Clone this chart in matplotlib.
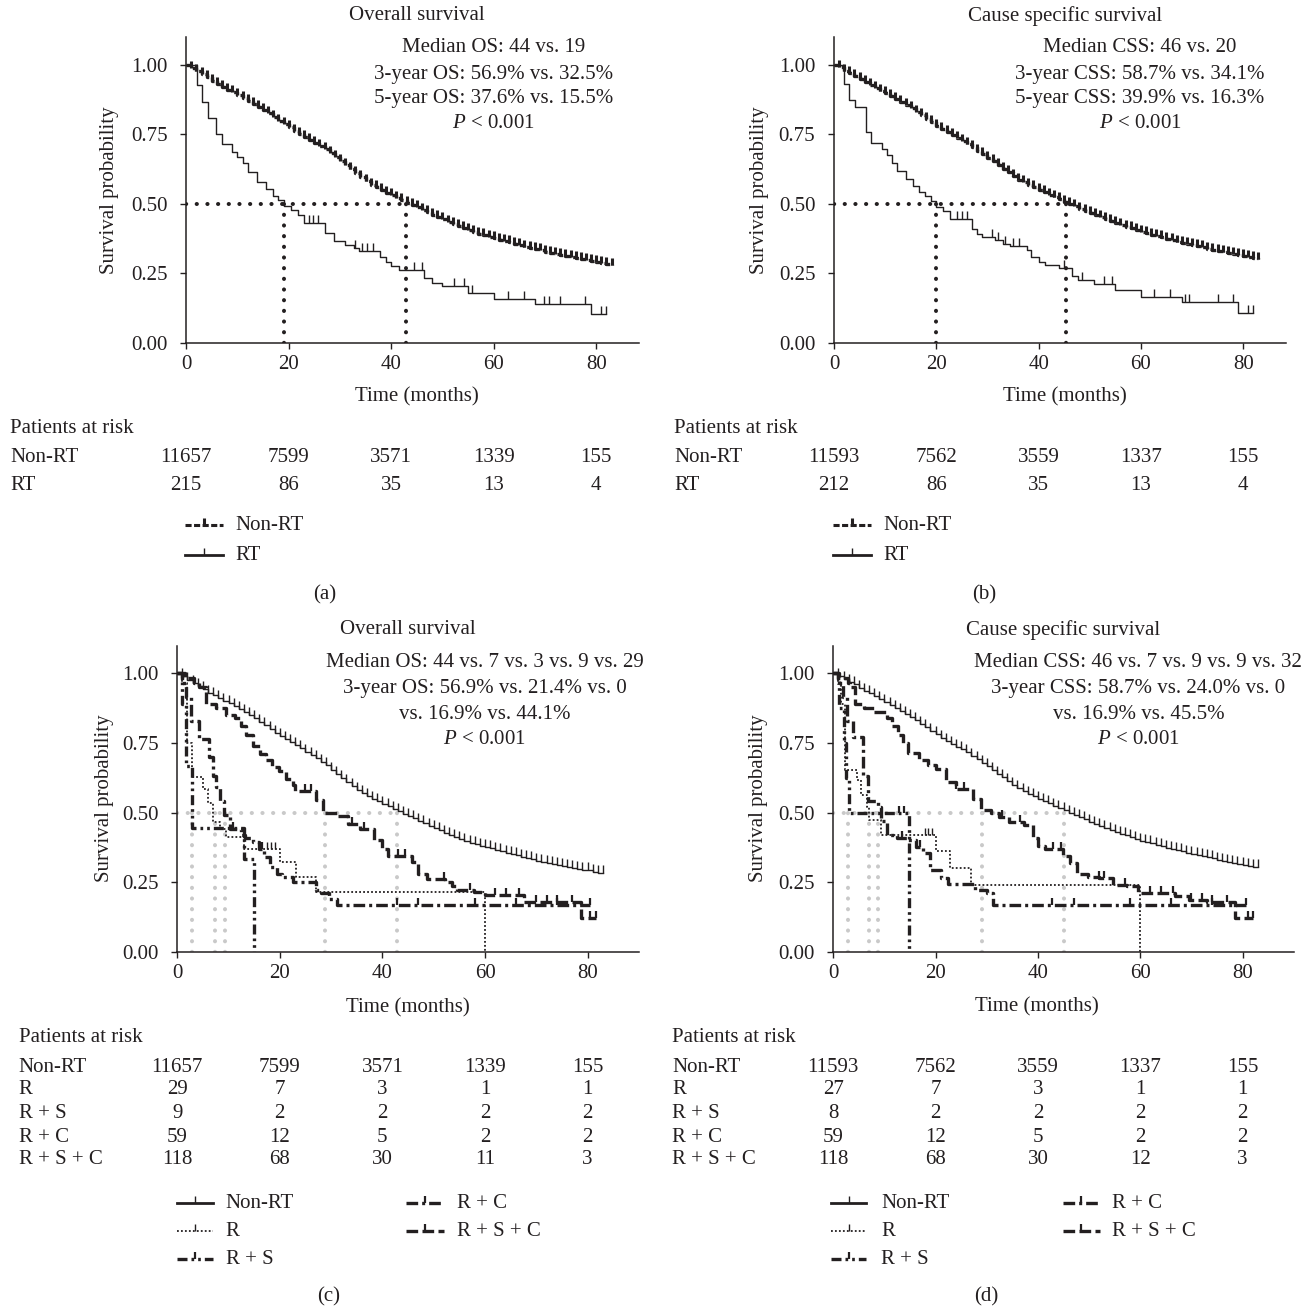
import numpy as np
import matplotlib
matplotlib.use("Agg")
import matplotlib.pyplot as plt
from matplotlib.lines import Line2D
from matplotlib.transforms import blended_transform_factory

W, H = 1304, 1309
INK = "#231f20"
FS = 15

plt.rcParams["font.family"] = ["Liberation Serif", "DejaVu Serif"]
plt.rcParams["mathtext.fontset"] = "custom"
plt.rcParams["mathtext.rm"] = "Liberation Serif"
plt.rcParams["mathtext.it"] = "Liberation Serif:italic"
plt.rcParams["text.color"] = INK

# =========================
# DATA
# =========================
months = list(range(84))

nonrt_os = [1.000, 0.990, 0.977, 0.966, 0.955, 0.943, 0.931, 0.921, 0.911, 0.902,
            0.893, 0.882, 0.871, 0.860, 0.849, 0.838, 0.826, 0.813, 0.800, 0.787,
            0.775, 0.763, 0.752, 0.741, 0.730, 0.719, 0.708, 0.696, 0.683, 0.669,
            0.654, 0.640, 0.625, 0.610, 0.596, 0.582, 0.569, 0.559, 0.549, 0.540,
            0.531, 0.522, 0.513, 0.504, 0.496, 0.488, 0.479, 0.470, 0.461, 0.452,
            0.444, 0.436, 0.428, 0.420, 0.412, 0.405, 0.398, 0.392, 0.386, 0.381,
            0.376, 0.371, 0.366, 0.361, 0.356, 0.351, 0.346, 0.341, 0.336, 0.332,
            0.327, 0.323, 0.319, 0.315, 0.311, 0.307, 0.304, 0.301, 0.298, 0.295,
            0.292, 0.288, 0.284, 0.281]

nonrt_css = [1.000, 0.991, 0.980, 0.970, 0.960, 0.949, 0.938, 0.928, 0.918, 0.908,
             0.898, 0.888, 0.877, 0.866, 0.855, 0.844, 0.832, 0.819, 0.806, 0.793,
             0.781, 0.769, 0.758, 0.747, 0.737, 0.727, 0.716, 0.704, 0.692, 0.679,
             0.666, 0.653, 0.640, 0.627, 0.613, 0.600, 0.587, 0.577, 0.568, 0.559,
             0.550, 0.541, 0.533, 0.525, 0.516, 0.508, 0.499, 0.491, 0.483, 0.475,
             0.467, 0.459, 0.451, 0.444, 0.437, 0.430, 0.424, 0.418, 0.412, 0.405,
             0.399, 0.394, 0.389, 0.384, 0.379, 0.374, 0.369, 0.364, 0.360, 0.355,
             0.351, 0.347, 0.343, 0.339, 0.335, 0.331, 0.327, 0.323, 0.320, 0.316,
             0.313, 0.309, 0.306, 0.303]

rt_os_t = [0, 2.1, 3.0, 4.3, 5.9, 7.0, 8.9, 10.0, 11.0, 12.0, 13.8, 15.5, 17.0, 18.0,
           19.0, 20.5, 21.8, 23.0, 27.0, 28.8, 31.0, 32.7, 33.8, 37.8, 39.0, 40.0,
           41.5, 46.5, 48.0, 50.0, 55.0, 60.0, 68.0, 79.0]
rt_os_v = [1.0, 0.928, 0.868, 0.81, 0.75, 0.715, 0.688, 0.668, 0.646, 0.613, 0.577,
           0.552, 0.528, 0.514, 0.493, 0.478, 0.46, 0.43, 0.394, 0.367, 0.352, 0.34,
           0.331, 0.31, 0.292, 0.277, 0.262, 0.232, 0.214, 0.204, 0.18, 0.156, 0.139,
           0.103]
rt_os_cens = [24.0, 24.8, 25.8, 33.0, 34.3, 35.3, 36.5, 44.5, 46.0, 52.2, 54.3, 55.7,
              62.8, 66.0, 69.8, 70.8, 73.0, 77.8, 81.0, 82.0]

rt_css_t = [0, 2.0, 2.9, 4.2, 6.2, 7.3, 9.3, 10.3, 11.4, 12.4, 14.0, 15.5, 16.7, 17.8,
            18.9, 20.0, 21.3, 22.6, 27.0, 28.0, 29.0, 31.5, 33.0, 34.4, 37.7, 38.6,
            40.0, 41.2, 43.9, 46.6, 47.8, 50.8, 55.0, 60.0, 68.0, 79.0]
rt_css_v = [1.0, 0.93, 0.873, 0.85, 0.76, 0.718, 0.697, 0.676, 0.646, 0.617, 0.59,
            0.565, 0.543, 0.527, 0.51, 0.49, 0.475, 0.445, 0.41, 0.39, 0.38, 0.368,
            0.355, 0.347, 0.335, 0.31, 0.29, 0.28, 0.268, 0.24, 0.225, 0.213, 0.19,
            0.163, 0.145, 0.108]
rt_css_cens = [24.0, 25.0, 26.0, 30.8, 32.0, 33.5, 35.0, 36.2, 45.0, 48.5, 52.8, 54.3,
               62.6, 65.7, 68.6, 69.5, 75.0, 78.0, 81.0, 82.0]

r_os_t = [0, 1.0, 2.0, 2.9, 5.0, 6.1, 7.0, 8.3, 9.6, 13.0, 20.0, 23.2, 27.1, 60.0]
r_os_v = [1.0, 0.966, 0.75, 0.629, 0.586, 0.533, 0.467, 0.44, 0.413, 0.37, 0.323,
          0.269, 0.214, 0.0]
r_os_cens = [17.6, 18.3, 19.0]

rs_os_t = [0, 1.0, 1.8, 2.9, 13.0, 14.9]
rs_os_v = [1.0, 0.889, 0.667, 0.444, 0.333, 0.0]

rc_os_t = [0, 1.0, 1.8, 2.6, 4.3, 6.2, 7.0, 7.6, 8.4, 9.2, 10.3, 12.5, 13.3, 14.8,
           16.0, 17.0, 18.0, 19.4, 20.5, 22.5, 27.0, 28.1, 29.5, 31.2]
rc_os_v = [1.0, 0.966, 0.915, 0.83, 0.763, 0.70, 0.63, 0.59, 0.54, 0.49, 0.44, 0.42,
           0.41, 0.395, 0.37, 0.34, 0.305, 0.28, 0.27, 0.25, 0.22, 0.21, 0.19, 0.169]
rc_os_cens = [10.8, 16.5, 42.8, 47.0, 58.0, 66.0, 74.0, 80.5]

rsc_os_t = [0, 1.5, 3.2, 4.2, 5.6, 7.5, 9.5, 11.2, 12.4, 13.5, 14.8, 16.2, 17.4, 18.4,
            19.8, 21.3, 22.5, 23.0, 27.1, 28.5, 31.3, 33.3, 35.7, 38.3, 40.0, 41.0,
            45.8, 47.0, 48.7, 52.3, 53.6, 54.5, 57.8, 60.0, 67.6, 78.8]
rsc_os_v = [1.0, 0.983, 0.966, 0.95, 0.89, 0.875, 0.85, 0.84, 0.81, 0.78, 0.74, 0.71,
            0.69, 0.665, 0.65, 0.62, 0.60, 0.578, 0.545, 0.50, 0.488, 0.46, 0.441,
            0.40, 0.37, 0.345, 0.323, 0.28, 0.26, 0.25, 0.235, 0.22, 0.213, 0.205,
            0.18, 0.12]
rsc_os_cens = [25.0, 26.0, 34.0, 36.5, 43.0, 44.5, 52.0, 57.0, 62.0, 64.0, 66.7, 70.0,
               72.0, 74.0, 77.0, 80.5, 81.6]

r_css_t = [0, 1.0, 1.6, 2.2, 4.6, 5.5, 6.5, 7.0, 9.4, 20.0, 22.8, 27.0, 60.0]
r_css_v = [1.0, 0.963, 0.889, 0.654, 0.617, 0.563, 0.52, 0.473, 0.421, 0.361, 0.301,
           0.24, 0.0]
r_css_cens = [17.9, 18.5, 19.2]

rs_css_t = [0, 1.2, 2.0, 2.5, 3.0, 14.8]
rs_css_v = [1.0, 0.875, 0.75, 0.625, 0.5, 0.0]
rs_css_cens = [12.8, 13.8]

rc_css_t = [0, 1.0, 1.8, 2.6, 3.9, 5.9, 6.8, 8.8, 9.3, 10.4, 12.4, 14.7, 16.2, 17.6,
            18.9, 21.0, 22.5, 27.7, 30.0, 31.2]
rc_css_v = [1.0, 0.966, 0.915, 0.83, 0.77, 0.63, 0.54, 0.52, 0.47, 0.42, 0.41, 0.40,
            0.377, 0.353, 0.293, 0.265, 0.245, 0.22, 0.21, 0.169]
rc_css_cens = [13.5, 17.0, 42.8, 47.0, 58.0, 66.0, 74.0, 80.7]

rsc_css_t = [0, 1.0, 2.8, 3.2, 4.2, 6.0, 8.0, 10.5, 11.5, 12.6, 13.6, 14.7, 16.8, 18.5,
             20.0, 22.1, 23.9, 27.4, 28.8, 30.9, 32.3, 34.4, 37.2, 39.0, 40.0, 41.4,
             44.9, 46.3, 47.7, 49.8, 52.0, 54.7, 57.5, 59.6, 66.7, 69.5, 73.0, 78.6]
rsc_css_v = [1.0, 0.983, 0.966, 0.95, 0.89, 0.875, 0.86, 0.84, 0.81, 0.78, 0.75, 0.715,
             0.69, 0.67, 0.655, 0.61, 0.585, 0.55, 0.51, 0.50, 0.485, 0.465, 0.455,
             0.41, 0.38, 0.37, 0.345, 0.32, 0.28, 0.27, 0.265, 0.24, 0.235, 0.21, 0.2,
             0.185, 0.18, 0.12]
rsc_css_cens = [24.0, 25.5, 33.0, 36.5, 43.0, 44.5, 52.0, 53.0, 57.0, 62.0, 64.0, 66.5,
                70.0, 72.0, 74.0, 77.0, 81.0, 82.0]

median_a = [19.0, 42.9]
median_b = [19.9, 45.4]
median_c = [2.9, 7.3, 9.4, 28.8, 42.9]
median_d = [2.9, 7.0, 8.8, 29.1, 45.0]

risk_times = [0, 20, 40, 60, 80]
risk_a = {"Non-RT": [11657, 7599, 3571, 1339, 155], "RT": [215, 86, 35, 13, 4]}
risk_b = {"Non-RT": [11593, 7562, 3559, 1337, 155], "RT": [212, 86, 35, 13, 4]}
risk_c = {"Non-RT": [11657, 7599, 3571, 1339, 155], "R": [29, 7, 3, 1, 1],
          "R + S": [9, 2, 2, 2, 2], "R + C": [59, 12, 5, 2, 2],
          "R + S + C": [118, 68, 30, 11, 3]}
risk_d = {"Non-RT": [11593, 7562, 3559, 1337, 155], "R": [27, 7, 3, 1, 1],
          "R + S": [8, 2, 2, 2, 2], "R + C": [59, 12, 5, 2, 2],
          "R + S + C": [118, 68, 30, 12, 3]}

notes_a = ["Median OS: 44 vs. 19", "3-year OS: 56.9% vs. 32.5%",
           "5-year OS: 37.6% vs. 15.5%", "$P$ < 0.001"]
notes_b = ["Median CSS: 46 vs. 20", "3-year CSS: 58.7% vs. 34.1%",
           "5-year CSS: 39.9% vs. 16.3%", "$P$ < 0.001"]
notes_c = ["Median OS: 44 vs. 7 vs. 3 vs. 9 vs. 29", "3-year OS: 56.9% vs. 21.4% vs. 0",
           "vs. 16.9% vs. 44.1%", "$P$ < 0.001"]
notes_d = ["Median CSS: 46 vs. 7 vs. 9 vs. 9 vs. 32", "3-year CSS: 58.7% vs. 24.0% vs. 0",
           "vs. 16.9% vs. 45.5%", "$P$ < 0.001"]

# =========================
# STYLES
# =========================
STY = {
    "nonrt_bold": dict(lw=2.4, ls=(0, (2.0, 0.8)), ms=5, mew=2.2),
    "solid": dict(lw=1.0, ls="-", ms=6, mew=1.0),
    "dotted": dict(lw=1.3, ls=(0, (1.0, 1.2)), ms=5, mew=1.0),
    "dashdotdot": dict(lw=2.4, ls=(0, (3.0, 1.2, 0.8, 1.2, 0.8, 1.2)), ms=5, mew=1.6),
    "dashdot": dict(lw=2.4, ls=(0, (3.5, 1.2, 0.9, 1.2)), ms=5, mew=1.6),
    "dashed": dict(lw=2.4, ls=(0, (3.5, 1.3)), ms=5, mew=1.6),
}

fig = plt.figure(figsize=(W / 100, H / 100), dpi=100)


def fx(x):
    return x / W


def fy(y):
    return 1 - y / H


def km(ax, t, v, t_end, cens, key):
    s = STY[key]
    ax.step(list(t) + [t_end], list(v) + [v[-1]], where="post", color=INK,
            lw=s["lw"], ls=s["ls"], zorder=3)
    if cens:
        idx = np.searchsorted(t, cens, side="right") - 1
        ax.plot(cens, np.asarray(v)[idx], ls="none", marker=2, ms=s["ms"],
                mew=s["mew"], color=INK, zorder=3)


def medians(ax, xs, color, z):
    dot = dict(color=color, lw=2.9, ls=(0, (0.05, 2.6)), dash_capstyle="round",
               solid_capstyle="round", zorder=z)
    ax.plot([0, max(xs)], [0.5, 0.5], **dot)
    for x in xs:
        ax.plot([x, x], [0, 0.5], **dot)


def setup(ax, xmax):
    ax.set_xlim(0, xmax)
    ax.set_ylim(0, 1.1)
    for s in ["top", "right"]:
        ax.spines[s].set_visible(False)
    for s in ["left", "bottom"]:
        ax.spines[s].set_color(INK)
        ax.spines[s].set_linewidth(1.1)
    ax.set_xticks(risk_times)
    ax.set_yticks([0, 0.25, 0.5, 0.75, 1.0])
    ax.set_yticklabels(["0.00", "0.25", "0.50", "0.75", "1.00"])
    ax.tick_params(direction="out", length=4.5, width=1.0, color=INK,
                   labelsize=FS, labelcolor=INK)
    ax.tick_params(axis="x", pad=4)
    ax.tick_params(axis="y", pad=9)


def texts(ax, title, tpos, notes, nx, ny, ylab_x, xlab, risk, risk_y, row_x, pl):
    fig.text(fx(tpos[0]), fy(tpos[1]), title, ha="center", va="center", fontsize=FS)
    for line, y in zip(notes, ny):
        fig.text(fx(nx), fy(y), line, ha="center", va="center", fontsize=FS)
    b = ax.get_position()
    fig.text(fx(ylab_x), (b.y0 + b.y1) / 2, "Survival probability", rotation=90,
             ha="center", va="center", fontsize=FS)
    fig.text(fx(xlab[0]), fy(xlab[1]), "Time (months)", ha="center", va="center",
             fontsize=FS)
    tr = blended_transform_factory(ax.transData, fig.transFigure)
    fig.text(fx(row_x), fy(risk_y[0]), "Patients at risk", ha="left", va="center",
             fontsize=FS)
    for (name, vals), y in zip(risk.items(), risk_y[1:]):
        fig.text(fx(row_x), fy(y), name, ha="left", va="center", fontsize=FS)
        for t, n in zip(risk_times, vals):
            fig.text(t, fy(y), str(n), transform=tr, ha="center", va="center",
                     fontsize=FS)
    fig.text(fx(pl[0]), fy(pl[1]), pl[2], ha="center", va="center", fontsize=FS)


def legend_item(x0, x1, xt, y, key, label, lw=None):
    s = STY[key]
    w = lw if lw else s["lw"]
    fig.add_artist(Line2D([fx(x0), fx(x1)], [fy(y), fy(y)], transform=fig.transFigure,
                          color=INK, lw=w, ls=s["ls"]))
    fig.add_artist(Line2D([fx((x0 + x1) / 2)], [fy(y)], transform=fig.transFigure,
                          color=INK, ls="none", marker=2, ms=5, mew=s["mew"]))
    fig.text(fx(xt), fy(y), label, ha="left", va="center", fontsize=FS)


# =========================
# PANEL (a)
# =========================
ax = fig.add_axes([fx(186.2), fy(342.7), 453 / W, 305.5 / H])
setup(ax, 88.4)
medians(ax, median_a, INK, 2)
km(ax, months, nonrt_os, 83, months[1:], "nonrt_bold")
km(ax, rt_os_t, rt_os_v, 82, rt_os_cens, "solid")
texts(ax, "Overall survival", (416.6, 16), notes_a, 493.8, [48, 74, 99, 124],
      109.7, (416.6, 397), risk_a, [428, 457, 485], 10.4, (325, 595, "(a)"))
legend_item(185.4, 222.9, 235.4, 525, "nonrt_bold", "Non-RT", lw=2.2)
legend_item(185.4, 222.9, 235.4, 555, "solid", "RT", lw=2.0)

# =========================
# PANEL (b)
# =========================
ax = fig.add_axes([fx(834), fy(342.7), 451.6 / W, 305.5 / H])
setup(ax, 88.3)
medians(ax, median_b, INK, 2)
km(ax, months, nonrt_css, 83, months[1:], "nonrt_bold")
km(ax, rt_css_t, rt_css_v, 82, rt_css_cens, "solid")
texts(ax, "Cause specific survival", (1064.8, 16), notes_b, 1140, [48, 74, 99, 124],
      759.7, (1064.8, 397), risk_b, [428, 457, 485], 674.5, (984, 595, "(b)"))
legend_item(833.4, 870.6, 883, 525, "nonrt_bold", "Non-RT", lw=2.2)
legend_item(833.4, 870.6, 883, 555, "solid", "RT", lw=2.0)

# =========================
# PANEL (c)
# =========================
ax = fig.add_axes([fx(177.2), fy(951.7), 461.7 / W, 306.2 / H])
setup(ax, 90)
medians(ax, median_c, "#c9c9c9", 1)
km(ax, months, nonrt_os, 83, months[1:], "solid")
km(ax, r_os_t, r_os_v, 60.0, r_os_cens, "dotted")
km(ax, rs_os_t, rs_os_v, 14.9, [], "dashdotdot")
km(ax, rc_os_t, rc_os_v, 80.5, rc_os_cens, "dashdot")
km(ax, rsc_os_t, rsc_os_v, 81.6, rsc_os_cens, "dashed")
texts(ax, "Overall survival", (407.7, 630), notes_c, 484.8, [663, 688, 715, 740],
      104.4, (407.7, 1008), risk_c, [1038, 1067, 1090, 1113, 1137, 1160], 18.75,
      (329, 1297, "(c)"))
legend_item(177, 212.5, 225.8, 1203, "solid", "Non-RT", lw=2.0)
legend_item(177, 212.5, 225.8, 1231, "dotted", "R")
legend_item(177, 212.5, 225.8, 1259, "dashdotdot", "R + S")
legend_item(406, 443.8, 457, 1203, "dashdot", "R + C")
legend_item(406, 443.8, 457, 1231, "dashed", "R + S + C")

# =========================
# PANEL (d)
# =========================
ax = fig.add_axes([fx(833.3), fy(951.7), 460.4 / W, 306.2 / H])
setup(ax, 90)
medians(ax, median_d, "#c9c9c9", 1)
km(ax, months, nonrt_css, 83, months[1:], "solid")
km(ax, r_css_t, r_css_v, 60.0, r_css_cens, "dotted")
km(ax, rs_css_t, rs_css_v, 14.8, rs_css_cens, "dashdotdot")
km(ax, rc_css_t, rc_css_v, 80.7, rc_css_cens, "dashdot")
km(ax, rsc_css_t, rsc_css_v, 82, rsc_css_cens, "dashed")
texts(ax, "Cause specific survival", (1063, 630), notes_d, 1138.4, [663, 688, 715, 740],
      758, (1037, 1007), risk_d, [1038, 1067, 1090, 1113, 1137, 1160], 672.4,
      (986, 1297, "(d)"))
legend_item(831, 866.4, 881, 1203, "solid", "Non-RT", lw=2.0)
legend_item(831, 866.4, 881, 1231, "dotted", "R")
legend_item(831, 866.4, 881, 1259, "dashdotdot", "R + S")
legend_item(1062.6, 1099.7, 1112, 1203, "dashdot", "R + C")
legend_item(1062.6, 1099.7, 1112, 1231, "dashed", "R + S + C")

fig.savefig("out.png", dpi=100)
